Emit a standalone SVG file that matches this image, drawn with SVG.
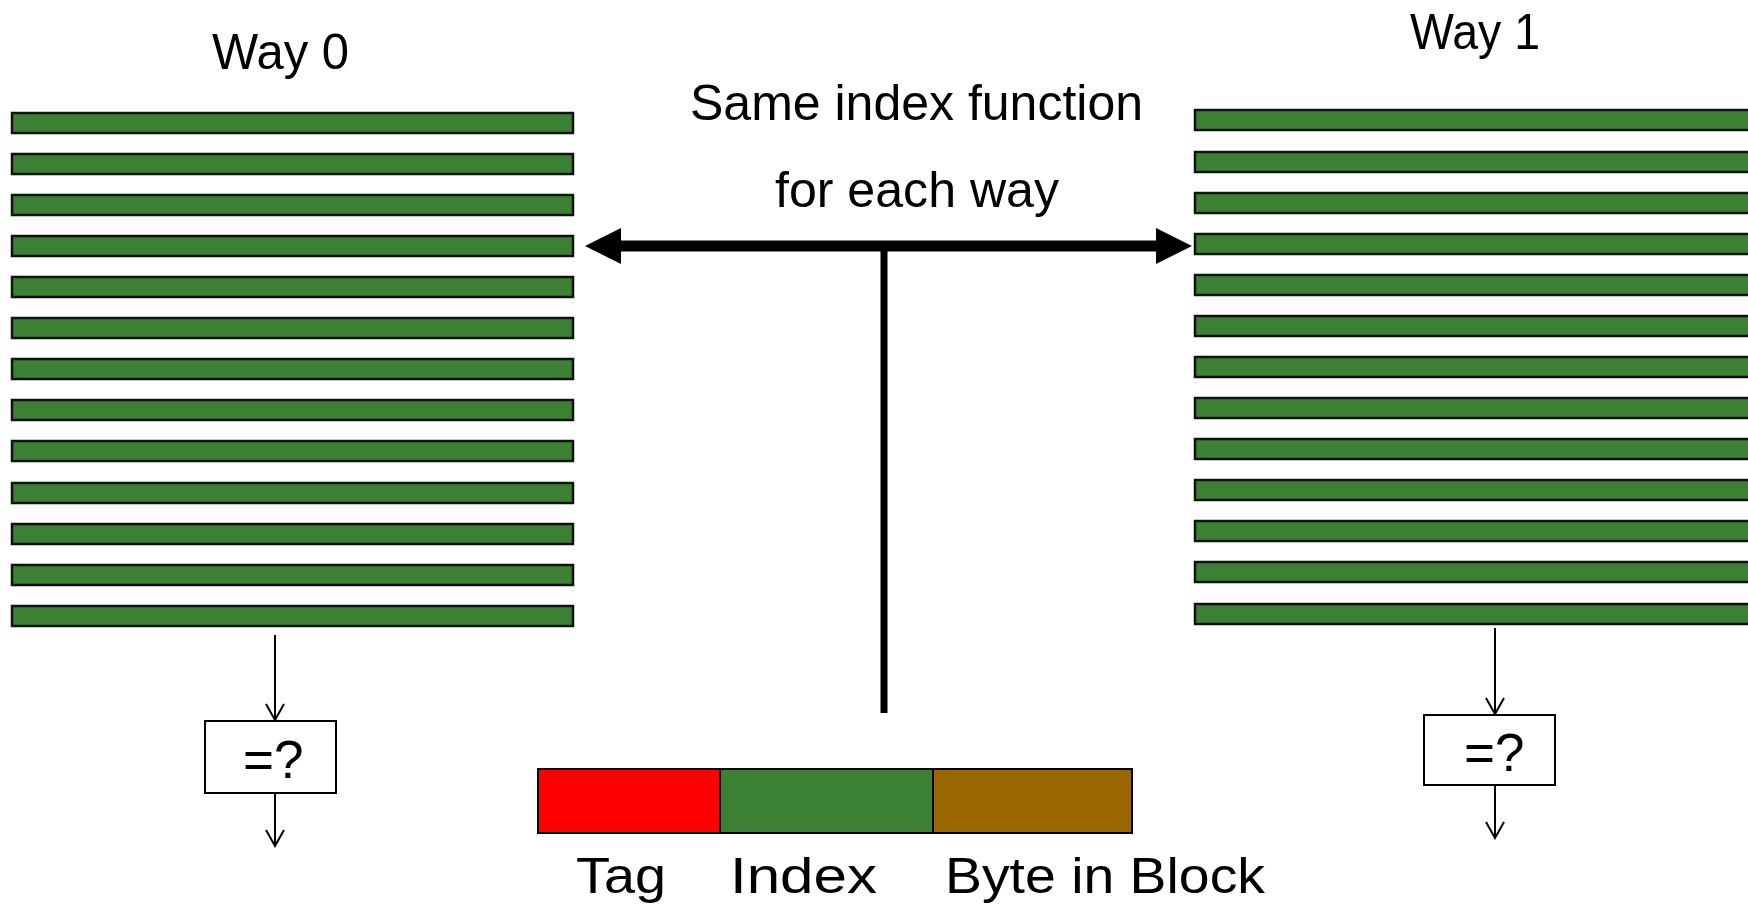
<svg xmlns="http://www.w3.org/2000/svg" width="1748" height="906" viewBox="0 0 1748 906">
  <style>
    .bar { fill: #3c8033; stroke: #111; stroke-width: 2.5; }
    .lbl { font-family: "Liberation Sans", Arial, sans-serif; fill: #000; }
    .big { font-size: 50px; }
    .cmp { font-size: 53px; }
    .box { fill: #fff; stroke: #000; stroke-width: 2; }
    .thin { stroke: #000; stroke-width: 2; fill: none; marker-end: url(#vhead); }
  </style>
  <defs>
    <marker id="vhead" viewBox="0 0 20 20" refX="18" refY="10" markerWidth="20" markerHeight="20" markerUnits="userSpaceOnUse" orient="auto">
      <path d="M2,1 L18,10 L2,19" fill="none" stroke="#000" stroke-width="2"/>
    </marker>
  </defs>
  <rect width="1748" height="906" fill="#fff"/>

  <!-- cache way 0 -->
  <g id="way0">
    <text class="lbl big" x="212" y="69" textLength="137" lengthAdjust="spacingAndGlyphs">Way 0</text>
    <rect class="bar" x="12" y="113" width="561" height="20"/>
    <rect class="bar" x="12" y="154" width="561" height="20"/>
    <rect class="bar" x="12" y="195" width="561" height="20"/>
    <rect class="bar" x="12" y="236" width="561" height="20"/>
    <rect class="bar" x="12" y="277" width="561" height="20"/>
    <rect class="bar" x="12" y="318" width="561" height="20"/>
    <rect class="bar" x="12" y="359" width="561" height="20"/>
    <rect class="bar" x="12" y="400" width="561" height="20"/>
    <rect class="bar" x="12" y="441" width="561" height="20"/>
    <rect class="bar" x="12" y="483" width="561" height="20"/>
    <rect class="bar" x="12" y="524" width="561" height="20"/>
    <rect class="bar" x="12" y="565" width="561" height="20"/>
    <rect class="bar" x="12" y="606" width="561" height="20"/>
  </g>

  <!-- cache way 1 -->
  <g id="way1">
    <text class="lbl big" x="1410" y="49" textLength="130" lengthAdjust="spacingAndGlyphs">Way 1</text>
    <rect class="bar" x="1195" y="110" width="570" height="20"/>
    <rect class="bar" x="1195" y="152" width="570" height="20"/>
    <rect class="bar" x="1195" y="193" width="570" height="20"/>
    <rect class="bar" x="1195" y="234" width="570" height="20"/>
    <rect class="bar" x="1195" y="275" width="570" height="20"/>
    <rect class="bar" x="1195" y="316" width="570" height="20"/>
    <rect class="bar" x="1195" y="357" width="570" height="20"/>
    <rect class="bar" x="1195" y="398" width="570" height="20"/>
    <rect class="bar" x="1195" y="439" width="570" height="20"/>
    <rect class="bar" x="1195" y="480" width="570" height="20"/>
    <rect class="bar" x="1195" y="521" width="570" height="20"/>
    <rect class="bar" x="1195" y="562" width="570" height="20"/>
    <rect class="bar" x="1195" y="604" width="570" height="20"/>
  </g>

  <!-- caption over the index arrow -->
  <g id="caption">
    <text class="lbl big" x="690" y="120" textLength="453" lengthAdjust="spacingAndGlyphs">Same index function</text>
    <text class="lbl big" x="775" y="207" textLength="284" lengthAdjust="spacingAndGlyphs">for each way</text>
  </g>

  <!-- comparators -->
  <g id="cmp0">
    <rect class="box" x="205" y="721" width="131" height="72"/>
    <text class="lbl cmp" x="243" y="778">=?</text>
  </g>
  <g id="cmp1">
    <rect class="box" x="1424" y="715" width="131" height="70"/>
    <text class="lbl cmp" x="1464" y="771">=?</text>
  </g>

  <!-- address fields -->
  <g id="address">
    <rect x="538" y="769" width="182" height="64" fill="#ff0000" stroke="#000" stroke-width="2"/>
    <rect x="720" y="769" width="213" height="64" fill="#3c8033" stroke="#000" stroke-width="2"/>
    <rect x="933" y="769" width="199" height="64" fill="#996600" stroke="#000" stroke-width="2"/>
    <text class="lbl big" x="576" y="893" textLength="90" lengthAdjust="spacingAndGlyphs">Tag</text>
    <text class="lbl big" x="730" y="893" textLength="147" lengthAdjust="spacingAndGlyphs">Index</text>
    <text class="lbl big" x="945" y="893" textLength="320" lengthAdjust="spacingAndGlyphs">Byte in Block</text>
  </g>

  <!-- connectors -->
  <g id="connectors">
    <line x1="884" y1="246" x2="884" y2="713" stroke="#000" stroke-width="7"/>
    <line x1="615" y1="246" x2="1160" y2="246" stroke="#000" stroke-width="11"/>
    <polygon points="585,246 621,228 621,264" fill="#000"/>
    <polygon points="1192,246 1156,228 1156,264" fill="#000"/>
    <line class="thin" x1="275" y1="635" x2="275" y2="720"/>
    <line class="thin" x1="275" y1="793" x2="275" y2="846"/>
    <line class="thin" x1="1495" y1="628" x2="1495" y2="714"/>
    <line class="thin" x1="1495" y1="785" x2="1495" y2="838"/>
  </g>
</svg>
